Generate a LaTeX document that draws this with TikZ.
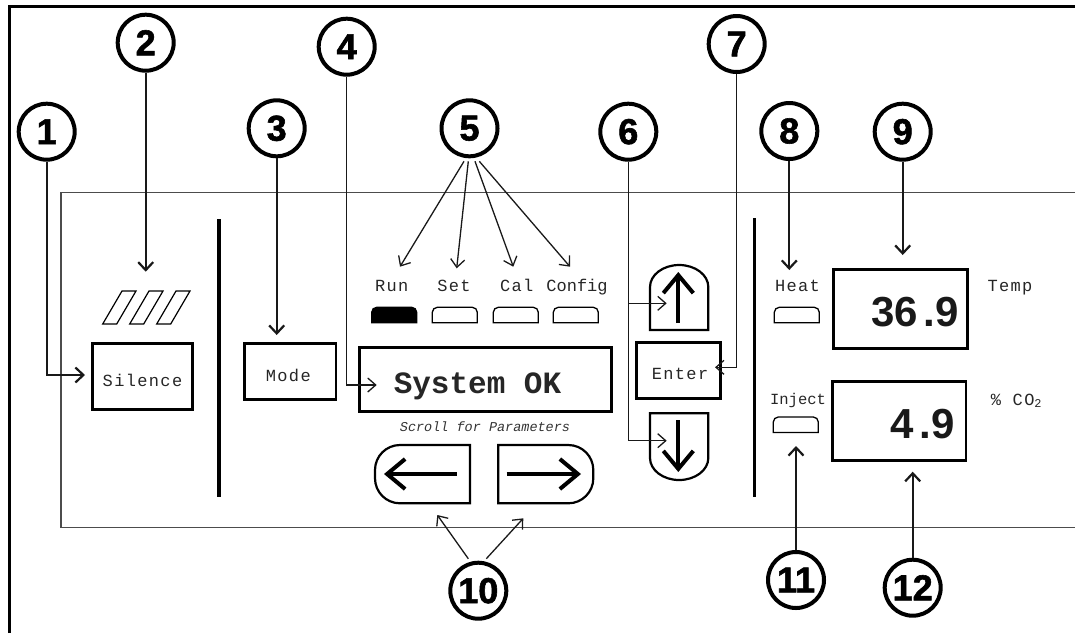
\documentclass[tikz,border=0pt]{standalone}
\usepackage{fontspec}
\setmainfont{Liberation Sans}
\setsansfont{Liberation Sans}
\setmonofont{Liberation Mono}
\newfontfamily\labfont[LetterSpace=8]{Liberation Mono}
\newfontfamily\sysfont{Liberation Mono}
\newfontfamily\callfont[FakeBold=1.6]{Liberation Sans Bold}
\usetikzlibrary{arrows.meta}
\newcommand\ledshape[3]{%
  \draw[led,#3] (#1,#2+15.5) -- (#1,#2+5) arc[start angle=180,end angle=270,radius=5]
    -- (#1+40,#2) arc[start angle=270,end angle=360,radius=5] -- (#1+45,#2+15.5) -- cycle;}
\begin{document}
\begin{tikzpicture}[x=1pt,y=-1pt,
  callout/.style={circle, draw=black, line width=4pt, minimum size=56pt, inner sep=0pt,
    font=\callfont\fontsize{36}{36}\selectfont},
  thickcall/.style={line width=2.2pt, draw=black!90, -{Straight Barb[length=8pt,width=15pt]}},
  thincall/.style={line width=1.3pt, draw=black!90, -{Straight Barb[length=8pt,width=14pt]}},
  box/.style={draw, line width=2.5pt, inner sep=0pt},
  lab/.style={font=\labfont\fontsize{17}{17}\selectfont, inner sep=0pt, text=black!85},
  labn/.style={font=\sysfont\fontsize{17}{17}\selectfont, inner sep=0pt, text=black!85},
  sys/.style={font=\sysfont\bfseries\fontsize{31}{31}\selectfont, inner sep=0pt, text=black!85},
  scroll/.style={font=\sysfont\itshape\fontsize{13.5}{13.5}\selectfont, inner sep=0pt, text=black!80},
  num/.style={font=\sffamily\bfseries\fontsize{42}{42}\selectfont, inner sep=0pt, text=black!90},
  led/.style={draw, line width=1.3pt},
  btn/.style={draw, line width=2.2pt},
  bigarrow/.style={line width=4pt, -{Straight Barb[length=18pt,width=30pt]}},
  divider/.style={line width=3.3pt},
  panel/.style={draw=black!70, line width=1.5pt},
  hatch/.style={draw, line width=1.2pt}
]
\useasboundingbox (0,0) rectangle (1075,633);
% outer frame
\draw[line width=3pt] (9,633) -- (9,6) -- (1075,6);
% panel
\draw[panel] (1075,192.7) -- (61,192.7) -- (61,527.3) -- (1075,527.3);
% dividers
\draw[divider] (219,219.3) -- (219,497);
\draw[divider] (754.3,218) -- (754.3,496.7);
% alarm hatch
\foreach \d in {0,27,54}
  \draw[hatch] (102.7+\d,324) -- (116.7+\d,324) -- (136+\d,291) -- (122+\d,291) -- cycle;

% boxes and texts
\node[box, minimum width=100pt, minimum height=66pt] (silence) at (142.7,376.3) {};
\node[lab, anchor=base] (silencetxt) at (142.5,386) {Silence};
\node[box, minimum width=91.7pt, minimum height=56pt] (mode) at (290.2,371.3) {};
\node[lab, anchor=base] (modetxt) at (288.3,381.7) {Mode};
\node[box, minimum width=252.4pt, minimum height=64pt] (display) at (485.5,379.7) {};
\node[sys, anchor=base] (sysok) at (477.5,393.3) {System OK};
\node[scroll, anchor=base] (scroll) at (485,431.7) {Scroll for Parameters};
\node[box, minimum width=84pt, minimum height=55.6pt] (enter) at (678.7,370.5) {};
\node[lab, anchor=base] (entertxt) at (680,379) {Enter};
\node[box, minimum width=134pt, minimum height=79pt] (tempbox) at (900.3,308.8) {};
\node[num, anchor=base east] (tempval) at (959,326) {36\kern6pt.9};
\node[box, minimum width=133.7pt, minimum height=79pt] (co2box) at (899.2,421.2) {};
\node[num, anchor=base east] (co2val) at (955,438.3) {4\kern6pt.9};

% labels
\node[lab, anchor=base] (run) at (391.7,291.7) {Run};
\node[lab, anchor=base] (set) at (454,291.7) {Set};
\node[lab, anchor=base] (cal) at (516.7,291.7) {Cal};
\node[labn, anchor=base] (config) at (577,291.7) {Config};
\node[lab, anchor=base] (heat) at (797.5,291.7) {Heat};
\node[lab, anchor=base] (temp) at (1010,291.7) {Temp};
\node[labn, anchor=base, font=\sysfont\fontsize{15.5}{15.5}\selectfont] (inject) at (798,404) {Inject};
\node[lab, anchor=base] (co2lab) at (1016.5,405) {\% CO\textsubscript{2}};

% LEDs
\ledshape{371.7}{307.3}{fill=black}
\ledshape{432.3}{307.3}{fill=white}
\ledshape{493.3}{307.3}{fill=white}
\ledshape{553.3}{307.3}{fill=white}
\ledshape{774.3}{307.3}{fill=white}
\ledshape{773.3}{417}{fill=white}

% up / down buttons
\draw[btn] (650,330) -- (650,287) arc[start angle=180,end angle=270,x radius=29.15,y radius=22]
  arc[start angle=270,end angle=360,x radius=29.15,y radius=22] -- (708.3,330) -- cycle;
\draw[btn] (650,413.3) -- (650,458) arc[start angle=180,end angle=90,x radius=29.15,y radius=22]
  arc[start angle=90,end angle=0,x radius=29.15,y radius=22] -- (708.3,413.3) -- cycle;
\draw[bigarrow] (678.3,323) -- (678.3,272);
\draw[bigarrow] (678.3,420) -- (678.3,472);
% left / right buttons
\draw[btn] (470,445) -- (400,445) arc[start angle=270,end angle=180,radius=25]
  -- (375,478.3) arc[start angle=180,end angle=90,radius=25] -- (470,503.3) -- cycle;
\draw[btn] (498.3,445) -- (568.3,445) arc[start angle=270,end angle=360,radius=25]
  -- (593.3,478.3) arc[start angle=0,end angle=90,radius=25] -- (498.3,503.3) -- cycle;
\draw[bigarrow] (456.7,474) -- (384,474);
\draw[bigarrow] (506.7,474) -- (581,474);

% callouts
\node[callout] (c1) at (46.7,131.7) {1};
\node[callout] (c2) at (145.7,42.7) {2};
\node[callout] (c3) at (276.7,128.3) {3};
\node[callout] (c4) at (346.7,46.7) {4};
\node[callout] (c5) at (469.5,128.3) {5};
\node[callout] (c6) at (628.3,131.7) {6};
\node[callout] (c7) at (736.7,44) {7};
\node[callout] (c8) at (789.3,131) {8};
\node[callout] (c9) at (902.7,131.7) {9};
\node[callout] (c10) at (478.3,590.7) {10};
\node[callout] (c11) at (796,580) {11};
\node[callout] (c12) at (912.7,587.7) {12};

\coordinate (t1) at (85,375);
\coordinate (t2) at (145.7,271.7);
\coordinate (t3) at (276.7,335);
\coordinate (t4) at (376.7,385);
\coordinate (t5a) at (400,266.7);
\coordinate (t5b) at (456.7,268.3);
\coordinate (t5c) at (513.3,266.7);
\coordinate (t5d) at (570,266.7);
\coordinate (t6u) at (666.7,303.3);
\coordinate (t6d) at (666.7,440.7);
\coordinate (t7) at (715,367.3);
\coordinate (t8) at (789.3,270);
\coordinate (t9) at (902.7,255);
\coordinate (t10a) at (437.3,515);
\coordinate (t10b) at (523.3,518.3);
\coordinate (t11) at (796,446);
\coordinate (t12) at (912.7,471.7);

\draw[thickcall] (c1) |- (t1);
\draw[thickcall] (c2) -- (t2);
\draw[thickcall] (c3) -- (t3);
\draw[thincall] (c4) |- (t4);
\draw[thincall] ([xshift=-5.5pt,yshift=-3pt]c5.south) -- (t5a);
\draw[thincall] ([xshift=-1.2pt,yshift=-3pt]c5.south) -- (t5b);
\draw[thincall] ([xshift=5.5pt,yshift=-3pt]c5.south) -- (t5c);
\draw[thincall] ([xshift=9.8pt,yshift=-3pt]c5.south) -- (t5d);
\draw[thincall] (c6) |- (t6u);
\draw[thincall] (c6) |- (t6d);
\draw[thincall] (c7) |- (t7);
\draw[thickcall] (c8) -- (t8);
\draw[thickcall] (c9) -- (t9);
\draw[thincall] ([xshift=-10pt,yshift=2pt]c10.north) -- (t10a);
\draw[thincall] ([xshift=8pt,yshift=2pt]c10.north) -- (t10b);
\draw[thickcall] (c11) -- (t11);
\draw[thickcall] (c12) -- (t12);
\end{tikzpicture}
\end{document}
